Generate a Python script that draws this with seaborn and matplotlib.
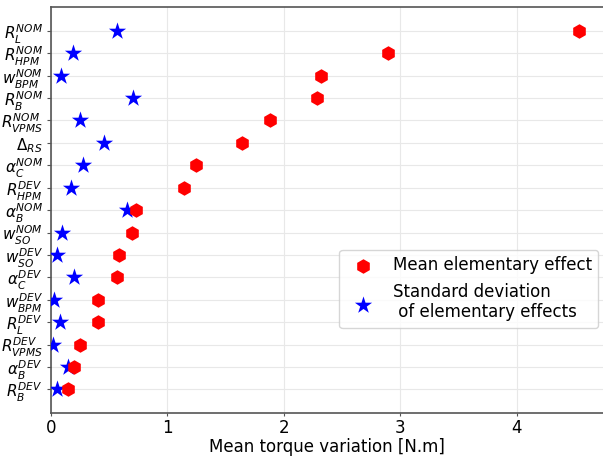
import matplotlib
matplotlib.use('Agg')
import matplotlib.pyplot as plt
import seaborn as sns
import pandas as pd

# parameters, top to bottom
params = [r'$R_L^{NOM}$', r'$R_{HPM}^{NOM}$', r'$w_{BPM}^{NOM}$', r'$R_B^{NOM}$', r'$R_{VPMS}^{NOM}$',
          r'$\Delta_{RS}$', r'$\alpha_C^{NOM}$', r'$R_{HPM}^{DEV}$', r'$\alpha_B^{NOM}$', r'$w_{SO}^{NOM}$',
          r'$w_{SO}^{DEV}$', r'$\alpha_C^{DEV}$', r'$w_{BPM}^{DEV}$', r'$R_L^{DEV}$', r'$R_{VPMS}^{DEV}$',
          r'$\alpha_B^{DEV}$', r'$R_B^{DEV}$']
mean_ee = [4.535, 2.89, 2.32, 2.28, 1.88, 1.642, 1.247, 1.138, 0.726, 0.698,
           0.58, 0.57, 0.40, 0.40, 0.25, 0.20, 0.15]
std_ee = [0.57, 0.19, 0.09, 0.70, 0.25, 0.453, 0.275, 0.174, 0.649, 0.091,
          0.05, 0.20, 0.03, 0.08, 0.02, 0.15, 0.05]

df = pd.DataFrame({'param': params, 'mean': mean_ee, 'std': std_ee})

fig, ax = plt.subplots(figsize=(6.03, 4.58), dpi=100)
fig.subplots_adjust(left=51 / 603, right=1.0, top=1 - 7.3 / 458, bottom=1 - 413 / 458)

sns.scatterplot(data=df, x='std', y='param', marker='*', color='blue', s=170, linewidth=0,
                label='Standard deviation\n of elementary effects', ax=ax, zorder=3)
sns.scatterplot(data=df, x='mean', y='param', marker='h', color='red', s=110, linewidth=0,
                label='Mean elementary effect', ax=ax, zorder=4)

ax.set_xlim(0, 4.74)
ax.set_ylim(len(params) - 1 + 1.05, -1.05)
ax.grid(True, color='#e8e8e8', linewidth=0.8)
ax.set_axisbelow(True)
for side in ['left', 'bottom', 'top']:
    ax.spines[side].set_color('#555555')
    ax.spines[side].set_linewidth(1.2)
ax.spines['right'].set_visible(False)
ax.tick_params(axis='x', labelsize=12, color='#555555', pad=2.5, length=2)
ax.tick_params(axis='y', labelsize=11, color='#555555', pad=3, length=3)
ax.set_xticks([0, 1, 2, 3, 4])
ax.set_xlabel('Mean torque variation [N.m]', fontsize=12, labelpad=0.5)
ax.set_ylabel('')

handles, labels = ax.get_legend_handles_labels()
ax.legend(handles[::-1], labels[::-1], loc='lower right', bbox_to_anchor=(0.9915, 0.2095),
          borderaxespad=0, fontsize=12)

plt.savefig('out.png', dpi=100)
